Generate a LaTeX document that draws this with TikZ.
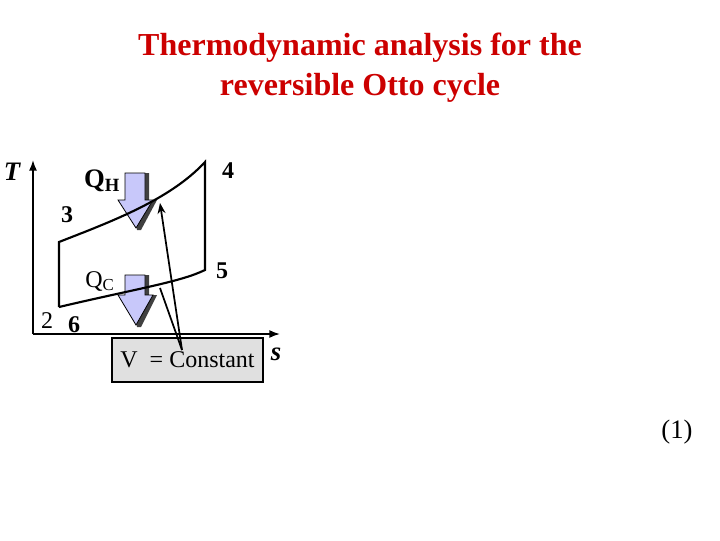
\documentclass[tikz,border=0pt]{standalone}
\usepackage{fontspec}
\setmainfont{Liberation Serif}
\usetikzlibrary{arrows.meta}
\definecolor{arrfill}{RGB}{200,200,250}
\definecolor{ttl}{RGB}{204,0,0}
\begin{document}
\begin{tikzpicture}[x={(0.75pt,0)},y={(0,-0.75pt)},
 lab/.style={font=\fontsize{18}{20}\selectfont\bfseries,inner sep=0},
 curve/.style={line width=1.6pt},
 blk/.style={draw=black,line width=0.6pt,fill=arrfill}]
\useasboundingbox (0,0) rectangle (720,540);
\node[font=\fontsize{24}{30}\selectfont\bfseries,text=ttl,align=center] (title) at (360,68) {Thermodynamic analysis for the\\reversible Otto cycle};
\coordinate (o) at (33,334);
\coordinate (ty) at (33,160);
\coordinate (sx) at (280,334);
\draw[line width=1.2pt,-{Latex[length=8pt]}] (o) -- (ty);
\draw[line width=1.2pt,-{Latex[length=8pt]}] (o) -- (sx);
% block arrows
\foreach \nm/\yt/\yh/\yp in {qh/173/200/228, qc/275/295/325}{
 \fill[black!75] (129,\yt) -- (149,\yt) -- (149,\yh) -- (157,\yh) -- (141,\yp+2) -- (137,\yp+2) -- cycle;
 \draw[blk] (125,\yt) -- (145,\yt) -- (145,\yh) -- (153,\yh) -- (136,\yp) -- (118,\yh) -- (125,\yh) -- cycle;
}
\coordinate (p2) at (59,307);
\coordinate (p3) at (59,242);
\coordinate (p4) at (205,162);
\coordinate (p5) at (205,270);
\draw[curve] (p2) -- (p3) .. controls (110,222) and (170,200) .. (p4) -- (p5) .. controls (180,282) and (140,288) .. (p2);
\node[draw=black,line width=1.2pt,fill=black!12,minimum width=151pt*0.75,minimum height=44pt*0.75,font=\fontsize{18}{20}\selectfont] (box) at (187.5,360) {V \ = Constant};
\coordinate (bt) at (182,350);
\coordinate (a1) at (160,203);
\coordinate (a2) at (160,288);
\draw[line width=1.3pt,-{Stealth[length=8pt]}] (bt) -- (a1);
\draw[line width=1.3pt] (bt) -- (a2);
\node[lab,font=\fontsize{20}{22}\selectfont\bfseries\itshape] (T) at (12,172) {T};
\node[lab] (l4) at (228,171) {4};
\node[lab,font=\fontsize{20}{22}\selectfont\bfseries] (qh) at (102,181) {Q\textsubscript{H}};
\node[lab] (l3) at (67,215) {3};
\node[lab,font=\fontsize{18}{20}\selectfont] (qc) at (100,281) {Q\textsubscript{C}};
\node[lab] (l5) at (222,271) {5};
\node[lab,font=\fontsize{18}{20}\selectfont] (l2) at (47,321) {2};
\node[lab] (l6) at (74,325) {6};
\node[lab,font=\fontsize{20}{22}\selectfont\bfseries\itshape] (s) at (276,354) {s};
\node[font=\fontsize{20}{22}\selectfont] (eq) at (677,432) {(1)};
\end{tikzpicture}
\end{document}
